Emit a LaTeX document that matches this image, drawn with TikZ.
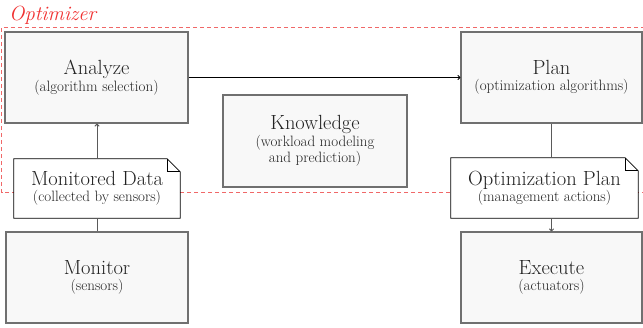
\documentclass[tikz,border=0pt]{standalone}
\usepackage{tikz}
\usetikzlibrary{arrows.meta}
\definecolor{boxfill}{HTML}{F8F8F8}
\definecolor{boxline}{HTML}{707070}
\definecolor{txt}{HTML}{222222}
\definecolor{optred}{HTML}{F03030}
\definecolor{dashred}{HTML}{F06868}
\newcommand{\maintxt}[1]{{\fontsize{20.5}{22}\selectfont #1}}
\begin{document}
\begin{tikzpicture}[x=1pt,y=-1pt,
  compbox/.style={draw=boxline, fill=boxfill, line width=1.1pt, text=txt, align=center, inner sep=0pt,
    font=\fontsize{15}{16.5}\selectfont},
  notebox/.style={fill=white, text=txt, align=center, inner sep=0pt,
    font=\fontsize{15}{16.5}\selectfont},
  notefold/.style={draw=black, line width=0.8pt},
  conn/.style={draw=boxline!80!black, line width=1pt},
  arr/.style={-{To[length=3pt,width=5pt]}},
  regiondash/.style={draw=dashred, line width=1pt, dash pattern=on 4pt off 3pt}
]
\useasboundingbox (0,0) rectangle (643,327);
% optimizer region
\draw[regiondash] (660,192) -- (1.5,192) -- (1.5,27) -- (660,27);
\node[anchor=west, text=optred, inner sep=0pt] (optlabel) at (9,15) {\fontsize{20.5}{22}\selectfont\itshape Optimizer};

% boxes
\node[compbox, minimum width=183pt, minimum height=91pt] (analyze) at (96.5,77.5)
  {\maintxt{Analyze}\\(algorithm selection)};
\node[compbox, minimum width=182pt, minimum height=91pt] (monitor) at (97,277.5)
  {\maintxt{Monitor}\\(sensors)};
\node[compbox, minimum width=184pt, minimum height=92pt] (knowledge) at (315,141)
  {\maintxt{Knowledge}\\(workload modeling\\and prediction)};
\node[compbox, minimum width=181pt, minimum height=91pt] (plan) at (551.5,77.5)
  {\maintxt{Plan}\\(optimization algorithms)};
\node[compbox, minimum width=181pt, minimum height=91pt] (execute) at (551.5,277.5)
  {\maintxt{Execute}\\(actuators)};

% notes
\node[notebox, minimum width=166pt, minimum height=59pt] (mdata) at (97,188.5)
  {\maintxt{Monitored Data}\\(collected by sensors)};
\node[notebox, minimum width=187pt, minimum height=60pt] (oplan) at (544.5,188)
  {\maintxt{Optimization Plan}\\(management actions)};
\foreach \n in {mdata,oplan}{
  \draw[notefold] (\n.south west) -- (\n.north west) -- ([xshift=-13pt]\n.north east)
    -- ([yshift=-13pt]\n.north east) -- (\n.south east) -- cycle;
  \draw[notefold] ([xshift=-13pt]\n.north east) -- ([xshift=-13pt,yshift=-13pt]\n.north east)
    -- ([yshift=-13pt]\n.north east);
}

% connectors
\draw[black, line width=0.8pt, arr] (analyze.east) -- (analyze.east -| plan.west);
\draw[conn, arr] (mdata.north) -- (mdata.north |- analyze.south);
\draw[conn] (monitor.north) -- (monitor.north |- mdata.south);
\draw[conn] (plan.south) -- (plan.south |- oplan.north);
\draw[conn, arr] (plan.south |- oplan.south) -- (execute.north);
\end{tikzpicture}
\end{document}
